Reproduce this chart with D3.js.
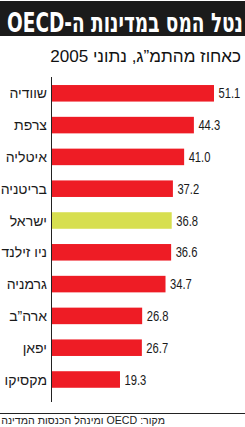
<!DOCTYPE html>
<html>
<head>
<meta charset="utf-8">
<script src="https://cdn.jsdelivr.net/npm/d3@7/dist/d3.min.js"></script>
<style>
  body { margin: 0; background: #fff; }
  svg { display: block; }
</style>
</head>
<body>
<svg id="chart" width="245" height="427"></svg>
<script>
const countries = ['שוודיה', 'צרפת', 'איטליה', 'בריטניה', 'ישראל', 'ניו זילנד', 'גרמניה', 'ארה”ב', 'יפאן', 'מקסיקו'];
const values = [51.1, 44.3, 41.0, 37.2, 36.8, 36.6, 34.7, 26.8, 26.7, 19.3];
const highlight = 'ישראל';

const title = 'נטל המס במדינות ה-OECD';
const subtitle = 'כאחוז מהתמ”ג, נתוני 2005';
const source = 'מקור: OECD ומינהל הכנסות המדינה';

const RED = '#ee1c25';
const YELLOW = '#d7df50';
const HEB_FONT = '"Liberation Sans", "DejaVu Sans", sans-serif';

let svg = d3.select('#chart');
let width = +svg.attr('width');

// shrink/grow font so the text spans the wanted width
function fitWidth(sel, target) {
  let size = parseFloat(sel.style('font-size'));
  let len = sel.node().getComputedTextLength();
  sel.style('font-size', (size * target / len) + 'px');
}

// title bar
svg.append('rect')
  .attr('x', 0)
  .attr('y', 1)
  .attr('width', width)
  .attr('height', 35)
  .style('fill', '#1b1b1b');

// big condensed title: keep the height, squeeze horizontally
let titleText = svg.append('text')
  .attr('x', 0)
  .attr('y', 0)
  .attr('direction', 'rtl')
  .attr('text-anchor', 'start')
  .style('font-family', '"DejaVu Sans Condensed", "DejaVu Sans", sans-serif')
  .style('font-weight', 'bold')
  .style('font-size', '27px')
  .style('fill', '#fff')
  .text(title);
let titleLen = titleText.node().getComputedTextLength();
titleText.attr('transform', 'translate(243,31.5) scale(' + (236 / titleLen) + ',1)');

let subText = svg.append('text')
  .attr('x', 241)
  .attr('y', 62)
  .attr('direction', 'rtl')
  .attr('text-anchor', 'start')
  .style('font-family', HEB_FONT)
  .style('font-size', '14px')
  .style('fill', '#111')
  .text(subtitle);
fitWidth(subText, 191);

// scales
let x = d3.scaleLinear()
  .domain([-3.7, 60])
  .range([52, 240.3]);

let y = d3.scaleBand()
  .domain(countries)
  .range([77.4, 395.4])
  .paddingInner(0.48)
  .paddingOuter(0.24);

let g = svg.append('g');

g.selectAll('rect.bar')
  .data(countries)
  .enter().append('rect')
  .attr('class', 'bar')
  .attr('x', x(-3.7))
  .attr('y', d => y(d))
  .attr('width', (d, i) => x(values[i]) - x(-3.7))
  .attr('height', y.bandwidth())
  .style('fill', d => d === highlight ? YELLOW : RED);

// value labels, squeezed to look like a narrow face
g.selectAll('text.value')
  .data(countries)
  .enter().append('text')
  .attr('class', 'value')
  .attr('x', (d, i) => x(values[i]) + 4.5)
  .attr('y', d => y(d) + y.bandwidth() / 2)
  .attr('dy', '0.37em')
  .style('font-family', HEB_FONT)
  .style('font-size', '14px')
  .style('fill', '#1a1a1a')
  .text((d, i) => values[i].toFixed(1))
  .each(function() {
    let len = this.getComputedTextLength();
    d3.select(this)
      .attr('textLength', len * 0.8)
      .attr('lengthAdjust', 'spacingAndGlyphs');
  });

// category labels
g.selectAll('text.cat')
  .data(countries)
  .enter().append('text')
  .attr('class', 'cat')
  .attr('x', 47)
  .attr('y', d => y(d) + y.bandwidth() / 2)
  .attr('dy', '0.36em')
  .attr('text-anchor', 'end')
  .style('font-family', HEB_FONT)
  .style('font-size', '14px')
  .style('fill', '#1a1a1a')
  .text(d => d);

// axis line
svg.append('line')
  .attr('x1', 51.5).attr('x2', 51.5)
  .attr('y1', 77).attr('y2', 402)
  .style('stroke', '#222')
  .style('stroke-width', 1);

// source
svg.append('line')
  .attr('x1', 0).attr('x2', width)
  .attr('y1', 413.5).attr('y2', 413.5)
  .style('stroke', '#222')
  .style('stroke-width', 1);

let srcText = svg.append('text')
  .attr('x', 165)
  .attr('y', 424)
  .attr('direction', 'rtl')
  .attr('text-anchor', 'start')
  .style('font-family', HEB_FONT)
  .style('font-size', '11px')
  .style('fill', '#222')
  .text(source);
fitWidth(srcText, 164);
</script>
</body>
</html>
